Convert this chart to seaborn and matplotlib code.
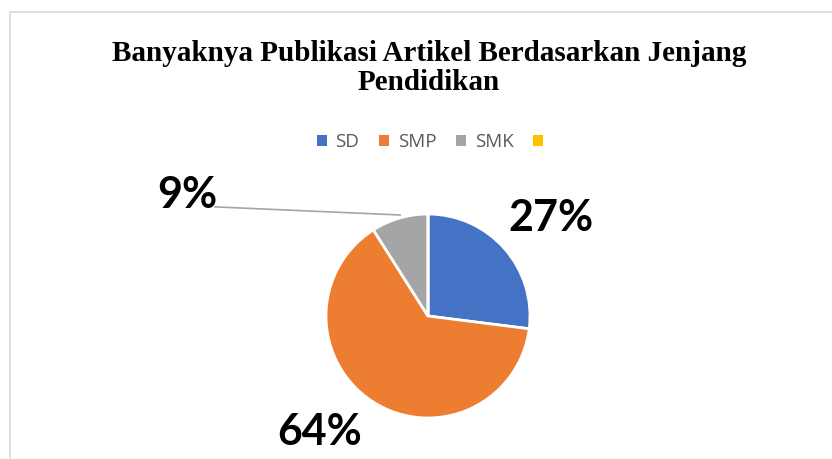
import matplotlib; matplotlib.use('Agg')
import matplotlib.pyplot as plt
from matplotlib.lines import Line2D
from matplotlib.patches import Patch
import numpy as np
import seaborn as sns

# ── DATA ──────────────────────────────────────────────────
CATEGORIES = ['SD', 'SMP', 'SMK', '']
VALUES     = [27, 64, 9, 0]
PCT_LABELS = ['27%', '64%', '9%']
COLORS     = ['#4472C4', '#ED7D31', '#A5A5A5', '#FFC000']
TITLE      = 'Banyaknya Publikasi Artikel Berdasarkan Jenjang\nPendidikan'

sns.set_theme(style='white')

W, H = 832, 459
fig = plt.figure(figsize=(W / 100, H / 100), dpi=100, facecolor='white')

# axes covering the whole figure, 1 data unit = pie radius (~102 px)
R_PX, CX, CY = 102, 428, 316
ax = fig.add_axes([0, 0, 1, 1])
wedges, _ = ax.pie(VALUES, colors=COLORS, startangle=90, counterclock=False,
                   wedgeprops=dict(edgecolor='white', linewidth=2))
ax.set_xlim(-CX / R_PX, (W - CX) / R_PX)
ax.set_ylim(-(H - CY) / R_PX, CY / R_PX)
ax.set_aspect('equal')
ax.axis('off')

# percentage labels
lab_font = dict(fontsize=31, fontweight='bold', family='Lato', color='black')
ax.text(1.21, 0.96, PCT_LABELS[0], ha='center', va='center', **lab_font)
ax.text(-1.06, -1.14, PCT_LABELS[1], ha='center', va='center', **lab_font)
ax.text(-2.36, 1.19, PCT_LABELS[2], ha='center', va='center', **lab_font)
# leader line for the small slice
ax.plot([-2.09, -0.27], [1.07, 0.99], color='#A5A5A5', lw=1.2)

# title
fig.text(CX / W + 0.001, 1 - 68 / H, TITLE, ha='center', va='center',
         fontsize=21, fontweight='bold', family='Liberation Serif',
         linespacing=1.12, color='black')

# legend
handles = [Patch(facecolor=c, edgecolor='none') for c in COLORS]
fig.legend(handles, CATEGORIES, loc='center', bbox_to_anchor=(0.522, 1 - 142 / H),
           ncol=4, frameon=False, handlelength=0.55, handleheight=0.55,
           handletextpad=0.45, columnspacing=1.05,
           prop={'family': 'Open Sans', 'size': 13.5}, labelcolor='#595959')

# chart frame (top + left edge visible)
fig.add_artist(Line2D([10 / W, 10 / W], [0, 1 - 12 / H], transform=fig.transFigure,
                      color='#D9D9D9', lw=1.2))
fig.add_artist(Line2D([10 / W, 1], [1 - 12 / H, 1 - 12 / H], transform=fig.transFigure,
                      color='#D9D9D9', lw=1.2))

fig.savefig('out.png', dpi=100, facecolor='white')
